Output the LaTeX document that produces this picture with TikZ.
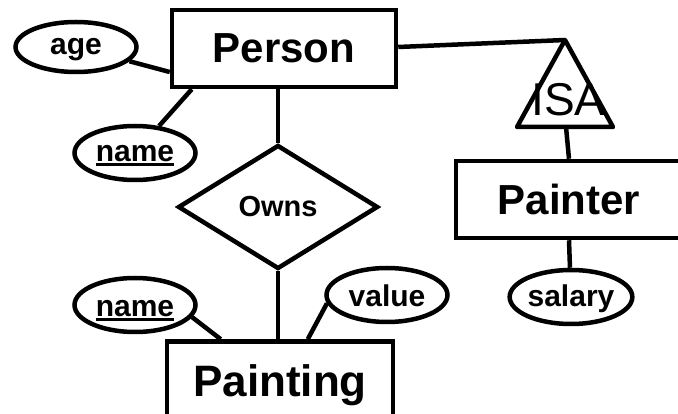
\documentclass[tikz,border=0pt]{standalone}
\usepackage{fontspec}
\setmainfont{Liberation Sans}
\usetikzlibrary{shapes.geometric}

% key attribute: text with a heavy underline
\newcommand\keyattr[1]{\setbox0\hbox{#1}\rlap{\usebox0}\raisebox{-4.2pt}{\rule{\wd0}{2.7pt}}}
% lower a label inside its shape without changing the shape
\newcommand\lowerby[2]{\raisebox{-#1}{#2}}

\tikzset{
  er/.style={draw=black, line width=4.5pt, fill=white, inner sep=0pt},
  entity/.style={er, rectangle, minimum height=77pt, text depth=0pt,
    font=\bfseries\fontsize{42}{50}\selectfont},
  attr/.style={er, ellipse, minimum height=54pt, minimum width=121pt,
    text height=15.5pt, text depth=0pt,
    font=\bfseries\fontsize{30}{36}\selectfont},
  rel/.style={er, diamond, minimum width=200pt, minimum height=124pt,
    font=\bfseries\fontsize{29}{35}\selectfont},
  link/.style={line width=4.5pt},
}

\begin{document}
\begin{tikzpicture}[x=1pt, y=-1pt]
  \useasboundingbox (0,0) rectangle (678,414);
  \clip (0,0) rectangle (678,414);
  \fill[white] (0,0) rectangle (678,414);

  % entities
  \node[entity, minimum width=224pt] (person)   at (284,48.5) {Person};
  \node[entity, minimum width=226pt, font=\bfseries\fontsize{44}{52}\selectfont]
    (painting) at (280,380) {\lowerby{2pt}{Painting}};
  \node[entity, minimum width=226pt] (painter)  at (569,199.5) {Painter};

  % relationship
  \node[rel] (owns) at (278,207) {Owns};

  % attributes
  \node[attr, minimum height=50pt] (age) at (76,47) {age};
  \node[attr] (pname)  at (135,153) {\lowerby{1pt}{\keyattr{name}}};
  \node[attr] (wname)  at (135,305) {\lowerby{4pt}{\keyattr{name}}};
  \node[attr] (value)  at (387,295) {\lowerby{4pt}{value}};
  \node[attr] (salary) at (571,297) {\lowerby{2pt}{salary}};

  % ISA triangle
  \coordinate (isatop) at (565,40);
  \coordinate (isaleft) at (517,127);
  \coordinate (isaright) at (613,127);
  \coordinate (isabase) at (566,127);
  \draw[link, line join=round] (isatop) -- (isaleft) -- (isaright) -- cycle;
  \node[font=\fontsize{46}{54}\selectfont, inner sep=0pt] (isa) at (568.5,100) {ISA};

  % connectors
  \draw[link] (age) -- ([yshift=-23.5pt]person.west);
  \draw[link] (pname) -- ([xshift=22pt]person.south west);
  \draw[link] (owns.north |- person.south) -- (owns.north);
  \draw[link] (owns.south) -- (owns.south |- painting.north);
  \draw[link] (wname.-12) -- ([xshift=56pt]painting.north west);
  \draw[link] (value.188) -- ([xshift=143pt]painting.north west);
  \draw[link] ([yshift=1.5pt]person.east) -- (isatop);
  \draw[link] (isabase) -- (painter.north);
  \draw[link] (painter.south) -- (salary);
\end{tikzpicture}
\end{document}
